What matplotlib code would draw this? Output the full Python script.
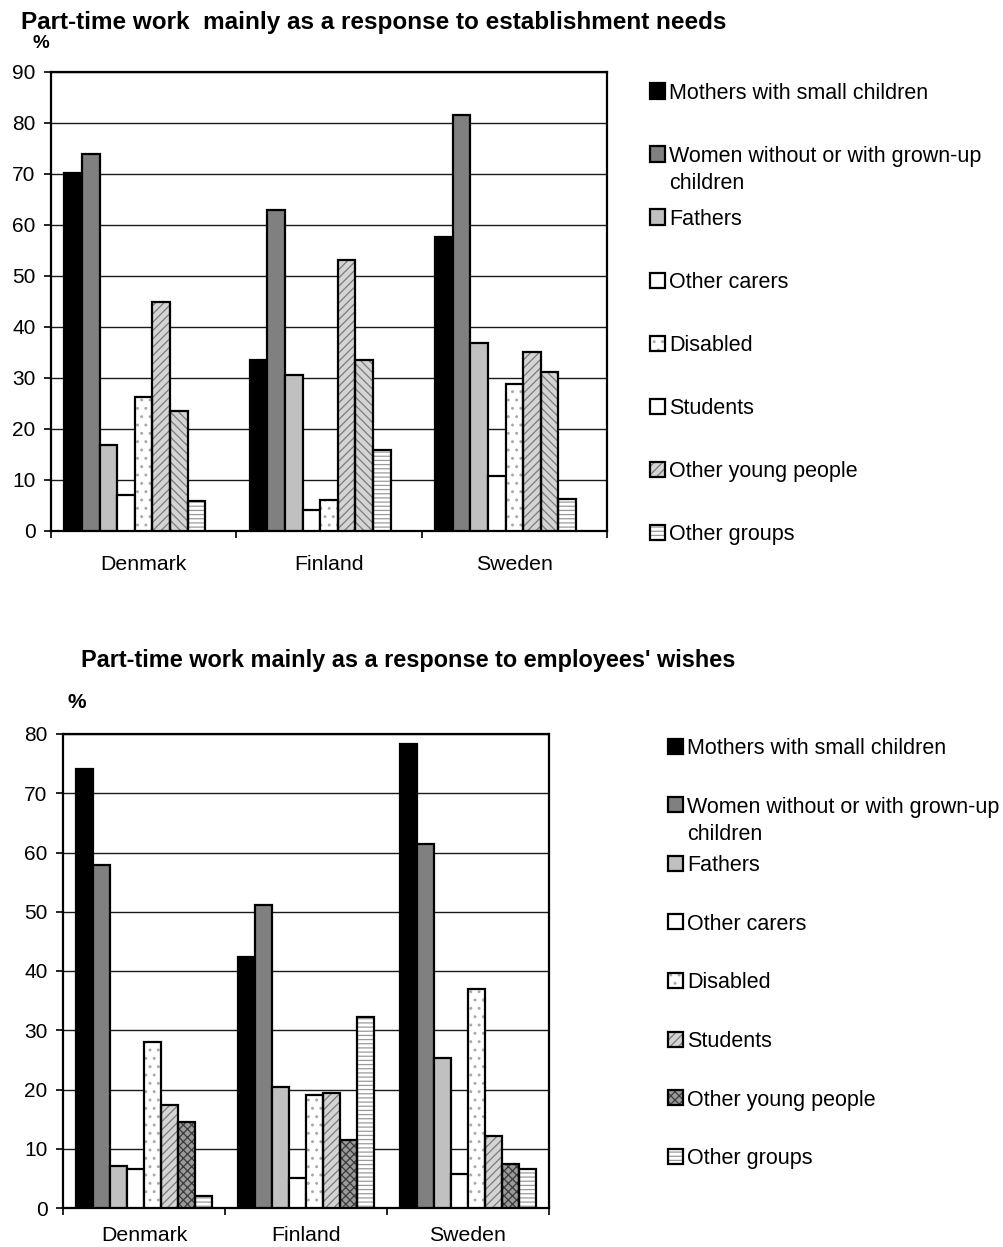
import matplotlib
matplotlib.use("Agg")
import matplotlib.pyplot as plt
from matplotlib.patches import Rectangle
import numpy as np

plt.rcParams['font.family'] = ['Liberation Sans', 'DejaVu Sans']
plt.rcParams['hatch.linewidth'] = 0.9

countries = ["Denmark", "Finland", "Sweden"]

# Part-time work mainly as a response to establishment needs (%)
est_labels = ["Mothers with small children",
              "Women without or with grown-up\nchildren",
              "Fathers", "Other carers", "Disabled", "Students",
              "Other young people", "Other groups"]
est_mothers = [70.2, 33.5, 57.6]
est_women = [74.0, 62.9, 81.5]
est_fathers = [16.8, 30.6, 36.8]
est_carers = [7.0, 4.1, 10.7]
est_disabled = [26.3, 6.0, 28.9]
est_students = [44.9, 53.1, 35.1]
est_young = [23.5, 33.5, 31.1]
est_other = [5.8, 15.8, 6.3]

# Part-time work mainly as a response to employees' wishes (%)
emp_labels = est_labels
emp_mothers = [74.1, 42.3, 78.3]
emp_women = [57.9, 51.2, 61.4]
emp_fathers = [7.1, 20.4, 25.3]
emp_carers = [6.5, 5.1, 5.7]
emp_disabled = [28.0, 19.1, 37.0]
emp_students = [17.3, 19.4, 12.1]
emp_young = [14.5, 11.5, 7.4]
emp_other = [2.0, 32.2, 6.6]

# fill styles: (face, hatch, hatch colour)
BLACK = ("#000000", None, None)
GRAY = ("#808080", None, None)
LIGHT = ("#c0c0c0", None, None)
WHITE = ("#ffffff", None, None)
DOTS = ("#ffffff", "..", "#a8a8a8")
DIAG = ("#d4d4d4", "////", "#7a7a7a")
BDIAG = ("#d4d4d4", "\\\\\\\\", "#7a7a7a")
DARK = ("#9a9a9a", "xxxx", "#3a3a3a")
STRIPE = ("#ffffff", "----", "#9a9a9a")

TICK_FS = 15
CAT_FS = 15.3
LEG_FS = 15.5

fig = plt.figure(figsize=(10.04, 12.47), dpi=100)
W, H = 1004, 1247


def px_axes(l, t, r, b):
    return fig.add_axes([l / W, 1 - b / H, (r - l) / W, (b - t) / H])


def draw_bars(ax, series, styles, nslots, ymax, cat_pad):
    bw = 1.0 / (nslots + 1.5)  # gap between groups is 150% of a bar
    group = bw * nslots
    x0 = np.arange(len(countries)) - group / 2
    for i, (vals, st) in enumerate(zip(series, styles)):
        face, hatch, hcol = st
        xs = x0 + i * bw
        if hatch:
            ax.bar(xs, vals, width=bw, align='edge', color=face,
                   hatch=hatch, edgecolor=hcol, linewidth=0, zorder=3)
            ax.bar(xs, vals, width=bw, align='edge', facecolor='none',
                   edgecolor='black', linewidth=1.6, zorder=4)
        else:
            ax.bar(xs, vals, width=bw, align='edge', color=face,
                   edgecolor='black', linewidth=1.6, zorder=3)
    ax.set_xlim(-0.5, len(countries) - 0.5)
    ax.set_ylim(0, ymax)
    ax.set_yticks(np.arange(0, ymax + 1, 10))
    ax.yaxis.grid(True, color='#1a1a1a', linewidth=1.0, zorder=0)
    ax.set_axisbelow(True)
    ax.set_xticks(np.arange(len(countries)))
    ax.set_xticklabels(countries, fontsize=CAT_FS)
    ax.set_xticks(np.arange(len(countries) + 1) - 0.5, minor=True)
    ax.tick_params(axis='x', which='major', length=0, pad=cat_pad)
    ax.tick_params(axis='x', which='minor', length=5, width=1.2, direction='out')
    ax.tick_params(axis='y', length=5, width=1.2, direction='out', pad=6,
                   labelsize=TICK_FS)
    for s in ax.spines.values():
        s.set_linewidth(1.6)
        s.set_color('black')


def draw_legend(labels, styles, x_box, y_first, step, size=15):
    for i, (lab, st) in enumerate(zip(labels, styles)):
        face, hatch, hcol = st
        yc = y_first + i * step
        xy = (x_box / W, 1 - (yc + size / 2) / H)
        if hatch:
            fig.patches.append(Rectangle(xy, size / W, size / H,
                                         transform=fig.transFigure,
                                         facecolor=face, hatch=hatch, edgecolor=hcol,
                                         linewidth=0))
        fig.patches.append(Rectangle(xy, size / W, size / H,
                                     transform=fig.transFigure,
                                     facecolor=face if not hatch else 'none',
                                     edgecolor='black', linewidth=1.6))
        fig.text((x_box + size + 4) / W, 1 - (yc - 8) / H, lab, fontsize=LEG_FS,
                 va='top', ha='left', linespacing=1.4)


# ---- top chart ----
ax1 = px_axes(51, 72, 607, 531)
est_series = [est_mothers, est_women, est_fathers, est_carers,
              est_disabled, est_students, est_young, est_other]
est_styles = [BLACK, GRAY, LIGHT, WHITE, DOTS, DIAG, BDIAG, STRIPE]
draw_bars(ax1, est_series, est_styles, 9, 90, 17)
fig.text(374 / W, 1 - 22 / H, "Part-time work  mainly as a response to establishment needs",
         fontsize=17.5, fontweight='bold', ha='center', va='center')
fig.text(41 / W, 1 - 43 / H, "%", fontsize=13.5, fontweight='bold', ha='center',
         va='center')
est_leg_styles = [BLACK, GRAY, LIGHT, WHITE, DOTS, WHITE, DIAG, STRIPE]
draw_legend(est_labels, est_leg_styles, 650, 91, 63)

# ---- bottom chart ----
ax2 = px_axes(63, 734, 549, 1208)
emp_series = [emp_mothers, emp_women, emp_fathers, emp_carers,
              emp_disabled, emp_students, emp_young, emp_other]
emp_styles = [BLACK, GRAY, LIGHT, WHITE, DOTS, DIAG, DARK, STRIPE]
draw_bars(ax2, emp_series, emp_styles, 8, 80, 13)
fig.text(408 / W, 1 - 661 / H, "Part-time work mainly as a response to employees' wishes",
         fontsize=16.9, fontweight='bold', ha='center', va='center')
fig.text(77 / W, 1 - 703 / H, "%", fontsize=15, fontweight='bold', ha='center',
         va='center')
draw_legend(emp_labels, emp_styles, 668, 746, 58.6)

fig.savefig("out.png", dpi=100)
